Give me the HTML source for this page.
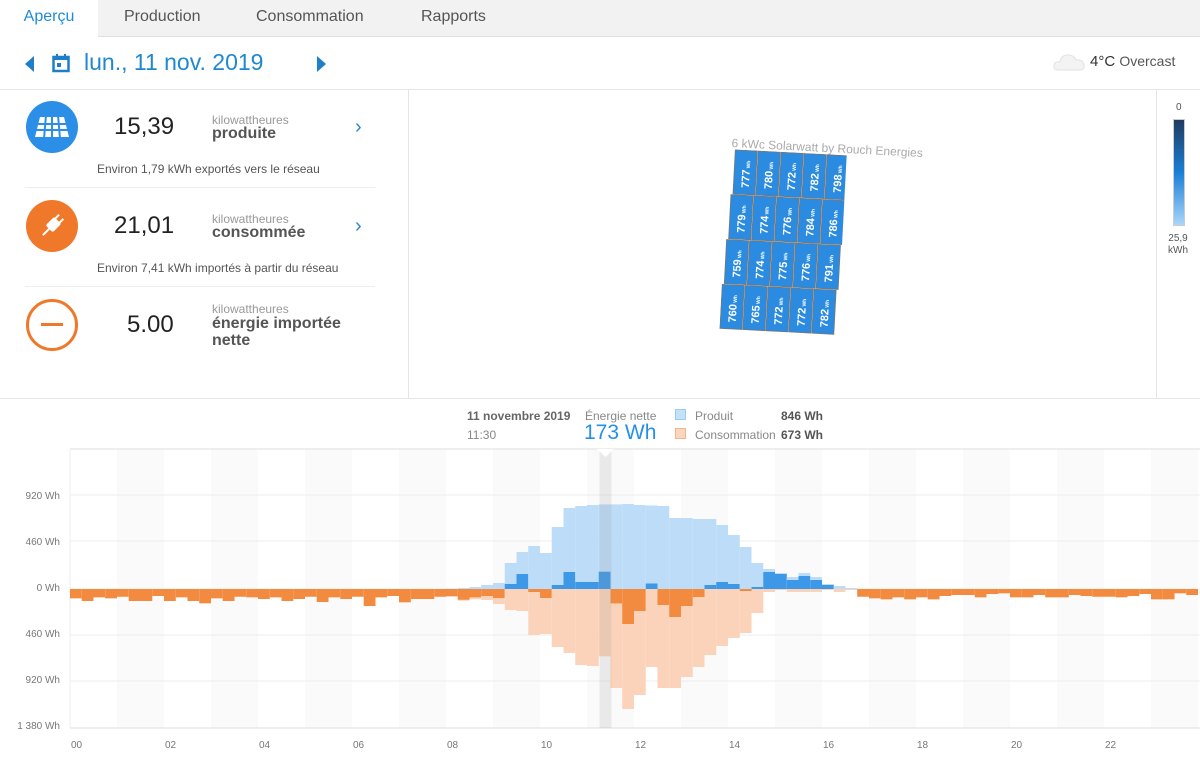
<!DOCTYPE html>
<html><head><meta charset="utf-8">
<style>
*{margin:0;padding:0;box-sizing:border-box}
body{width:1200px;height:757px;overflow:hidden;background:#fff;font-family:"Liberation Sans",sans-serif;color:#444;position:relative}
.abs{position:absolute;white-space:nowrap}
.tabs{position:absolute;left:0;top:0;width:1200px;height:37px;background:#f2f2f2;border-bottom:1px solid #e0e0e0}
.tab{position:absolute;top:0;height:37px;line-height:34px;font-size:16px;color:#555}
.icon{position:absolute;width:52px;height:52px;border-radius:50%}
.num{position:absolute;font-size:24px;color:#222}
.kw{position:absolute;font-size:12px;color:#999}
.lbl{position:absolute;font-size:16px;color:#555;font-weight:bold;line-height:17px}
.sub{position:absolute;font-size:12px;color:#555}
.chev{position:absolute;color:#2a86d0;font-size:20px}
.sep{position:absolute;left:25px;width:350px;height:1px;background:#eee}
</style></head><body>
<div class="tabs">
 <div class="tab" style="left:0;width:98px;background:#fff;height:38px;text-align:center;color:#1e8bd8">Aperçu</div>
 <div class="tab" style="left:124px">Production</div>
 <div class="tab" style="left:256px">Consommation</div>
 <div class="tab" style="left:421px">Rapports</div>
</div>
<svg class="abs" style="left:22px;top:54px" width="14" height="20"><polygon points="12,2 12,18 3,10" fill="#1e7fc8"/></svg>
<svg class="abs" style="left:52px;top:53px" width="18" height="20"><rect x="1.5" y="4" width="15" height="14" fill="none" stroke="#1e7fc8" stroke-width="2.5"/><rect x="1" y="3" width="16" height="4" fill="#1e7fc8"/><rect x="4" y="1" width="2" height="4" fill="#1e7fc8"/><rect x="12" y="1" width="2" height="4" fill="#1e7fc8"/><rect x="5" y="10" width="4" height="4" fill="#1e7fc8"/></svg>
<div class="abs" style="left:84px;top:49px;font-size:23px;color:#1e88d0">lun., 11 nov. 2019</div>
<svg class="abs" style="left:314px;top:54px" width="14" height="20"><polygon points="3,2 3,18 12,10" fill="#1e7fc8"/></svg>
<svg class="abs" style="left:1053px;top:52px" width="34" height="20"><path d="M6 18 Q0 18 1 13 Q2 9 7 10 Q8 3 15 3 Q21 3 23 8 Q30 7 31 13 Q32 18 26 18 Z" fill="#f3f3f3" stroke="#e2e2e2"/></svg>
<div class="abs" style="left:1090px;top:53px;font-size:15px;color:#333">4°C <span style="font-size:14px;color:#555">Overcast</span></div>
<div class="abs" style="left:0;top:89px;width:1200px;height:1px;background:#e6e6e6"></div>
<div class="abs" style="left:408px;top:89px;width:1px;height:309px;background:#e6e6e6"></div>
<div class="abs" style="left:1156px;top:89px;width:1px;height:309px;background:#e6e6e6"></div>
<div class="abs" style="left:0;top:398px;width:1200px;height:1px;background:#e6e6e6"></div>
<div class="icon" style="left:26px;top:101px;background:#2b8fe8"></div>
<svg class="abs" style="left:34px;top:115px" width="36" height="24"><polygon points="6,2 30,2 35,22 1,22" fill="#fff"/><g stroke="#2b8fe8" stroke-width="2"><line x1="0" y1="9" x2="36" y2="9"/><line x1="0" y1="15" x2="36" y2="15"/><line x1="12" y1="0" x2="10" y2="24"/><line x1="18" y1="0" x2="18" y2="24"/><line x1="24" y1="0" x2="26" y2="24"/></g></svg>
<div class="num" style="left:114px;top:113px">15,39</div>
<div class="kw" style="left:212px;top:113px">kilowattheures</div>
<div class="lbl" style="left:212px;top:125px">produite</div>
<div class="chev" style="left:355px;top:116px">›</div>
<div class="sub" style="left:97px;top:162px">Environ 1,79 kWh exportés vers le réseau</div>
<div class="sep" style="top:187px"></div>
<div class="icon" style="left:26px;top:200px;background:#f0782a"></div>
<svg class="abs" style="left:38px;top:212px" width="28" height="28"><g transform="rotate(45 14 14)"><rect x="9" y="6" width="10" height="12" rx="2" fill="#fff"/><rect x="10" y="1" width="2" height="6" fill="#fff"/><rect x="16" y="1" width="2" height="6" fill="#fff"/><rect x="13" y="17" width="2" height="10" fill="#fff"/></g></svg>
<div class="num" style="left:114px;top:212px">21,01</div>
<div class="kw" style="left:212px;top:212px">kilowattheures</div>
<div class="lbl" style="left:212px;top:224px">consommée</div>
<div class="chev" style="left:355px;top:215px">›</div>
<div class="sub" style="left:97px;top:261px">Environ 7,41 kWh importés à partir du réseau</div>
<div class="sep" style="top:286px"></div>
<div class="icon" style="left:26px;top:299px;border:3px solid #f0782a"></div>
<div class="abs" style="left:41px;top:323px;width:22px;height:3px;background:#f0782a"></div>
<div class="num" style="left:127px;top:311px">5.00</div>
<div class="kw" style="left:212px;top:302px">kilowattheures</div>
<div class="lbl" style="left:212px;top:315px">énergie importée<br>nette</div>
<div class="abs" style="left:732px;top:136px;font-size:12px;color:#aaa;transform:rotate(3deg);transform-origin:0 0">6 kWc Solarwatt by Rouch Energies</div>
<div class="abs" style="left:724px;top:152px;width:118px;height:182px;transform:rotate(3deg);transform-origin:50% 50%">
<svg width="118" height="182" id="arr"></svg>
</div>
<div class="abs" style="left:1176px;top:102px;font-size:10px;color:#555">0</div>
<div class="abs" style="left:1173px;top:119px;width:12px;height:107px;border:1px solid #ccc;background:linear-gradient(#1f3c60,#1b7fd6 50%,#a9d6fa)"></div>
<div class="abs" style="left:1168px;top:233px;font-size:10px;color:#555;text-align:center;line-height:12px">25,9<br>kWh</div>
<div class="abs" style="left:467px;top:409px;font-size:12px;color:#666;font-weight:bold">11 novembre 2019</div>
<div class="abs" style="left:467px;top:428px;font-size:12px;color:#888">11:30</div>
<div class="abs" style="left:585px;top:409px;font-size:12px;color:#888">Énergie nette</div>
<div class="abs" style="left:584px;top:421px;font-size:21px;color:#2590e8">173 Wh</div>
<div class="abs" style="left:675px;top:409px;width:11px;height:11px;background:#c4e1fa;border:1px solid #9ccbf0"></div>
<div class="abs" style="left:695px;top:409px;font-size:12px;color:#888">Produit</div>
<div class="abs" style="left:781px;top:409px;font-size:12px;color:#555;font-weight:bold">846 Wh</div>
<div class="abs" style="left:675px;top:428px;width:11px;height:11px;background:#fbd5bd;border:1px solid #f3b58c"></div>
<div class="abs" style="left:695px;top:428px;font-size:12px;color:#888">Consommation</div>
<div class="abs" style="left:781px;top:428px;font-size:12px;color:#555;font-weight:bold">673 Wh</div>
<svg class="abs" style="left:0;top:440px" width="1200" height="317" id="ch" font-family="Liberation Sans, sans-serif">
</svg>
<script>
(function(){
var s='';
var vals=[[777,780,772,782,798],[779,774,776,784,786],[759,774,775,776,791],[760,765,772,772,782]];
for(var r=0;r<4;r++)for(var c=0;c<5;c++){
 var x=c*23-r*2+6,y=r*45;
 s+='<rect x="'+(x+0.5)+'" y="'+(y+0.5)+'" width="22" height="44" fill="#2a8be0" stroke="#777" stroke-width="0.8"/>';
 s+='<text transform="translate('+(x+16)+','+(y+38)+') rotate(-90)" font-size="11" font-weight="bold" fill="#fff">'+vals[r][c]+'<tspan font-size="5"> Wh</tspan></text>';
}
document.getElementById('arr').innerHTML=s;
var T=449-440,B=728-440,Z=589-440,L=70,W=11.75;
var o='';
for(var h=1;h<24;h+=2)o+='<rect x="'+(L+h*47)+'" y="'+T+'" width="47" height="'+(B-T)+'" fill="#fafafa"/>';
var g=[495,541,589,635,681];
g.forEach(function(y){o+='<line x1="'+L+'" x2="1200" y1="'+(y-440)+'" y2="'+(y-440)+'" stroke="#ececec"/>';});
o+='<line x1="'+L+'" x2="1200" y1="'+T+'" y2="'+T+'" stroke="#ddd"/>';
o+='<line x1="'+L+'" x2="1200" y1="'+B+'" y2="'+B+'" stroke="#ddd"/>';
o+='<line x1="'+L+'" x2="'+L+'" y1="'+T+'" y2="'+B+'" stroke="#eee"/>';
var P=new Array(96).fill(0),C=new Array(96).fill(0);
var pm={32:5,33:10,34:20,35:40,36:60,37:260,38:370,39:430,40:360,41:620,42:810,43:830,44:840,45:846,46:846,47:850,48:840,49:835,50:830,51:710,52:710,53:700,54:700,55:640,56:540,57:420,58:260,59:200,60:160,61:120,62:160,63:120,64:50,65:30,66:10};
for(var k in pm)P[k]=pm[k];
var night=[93,120,83,93,77,120,120,70,120,83,120,143,93,120,77,83,100,83,120,100,77,130,83,100,77,170,83,70,133,100,100,77,77,117,103,110,150];
for(var i=0;i<night.length;i++)C[i]=night[i];
var cm={36:150,37:210,38:220,39:460,40:450,41:580,42:640,43:760,44:770,45:673,46:990,47:1200,48:1060,49:780,50:990,51:990,52:880,53:780,54:660,55:570,56:490,57:440,58:240,59:30,60:10,61:30,62:30,63:30,64:10,65:30,66:10};
for(var k in cm)C[k]=cm[k];
var eve=[77,93,103,83,103,83,103,70,60,60,83,50,43,83,83,60,83,83,60,70,77,77,83,70,50,103,103,43,60];
for(var i=0;i<eve.length&&67+i<96;i++)C[67+i]=eve[i];
for(var i=0;i<96;i++){
 var x=(L+i*W).toFixed(2),w=W.toFixed(2);
 var p=P[i]/10,c=C[i]/10,ex=Math.max(P[i]-C[i],0)/10,im=Math.max(C[i]-P[i],0)/10;
 if(p>0)o+='<rect x="'+x+'" y="'+(Z-p)+'" width="'+w+'" height="'+p+'" fill="#bcdcf8"/>';
 if(c>0)o+='<rect x="'+x+'" y="'+Z+'" width="'+w+'" height="'+c+'" fill="#fbd3ba"/>';
 if(ex>0)o+='<rect x="'+x+'" y="'+(Z-ex)+'" width="'+w+'" height="'+ex+'" fill="#3d98e8"/>';
 if(im>0)o+='<rect x="'+x+'" y="'+Z+'" width="'+w+'" height="'+im+'" fill="#f28a3f"/>';
}
o+='<rect x="599.5" y="'+(T+3)+'" width="12" height="'+(B-T-3)+'" fill="#999" opacity="0.18"/>';
o+='<polygon points="597,'+T+' 614,'+T+' 605.5,'+(T+8)+'" fill="#fff"/>';
var yl=[[495,'920 Wh'],[541,'460 Wh'],[587,'0 Wh'],[633,'460 Wh'],[679,'920 Wh'],[725,'1 380 Wh']];
yl.forEach(function(a){o+='<text x="60" y="'+(a[0]-440+4)+'" font-size="10" fill="#777" text-anchor="end">'+a[1]+'</text>';});
for(var h=0;h<24;h+=2){var t=(h<10?'0':'')+h;o+='<text x="'+(L+h*47+1)+'" y="'+(748-440)+'" font-size="10" fill="#777">'+t+'</text>';}
document.getElementById('ch').innerHTML=o;
})();
</script>
</body></html>
